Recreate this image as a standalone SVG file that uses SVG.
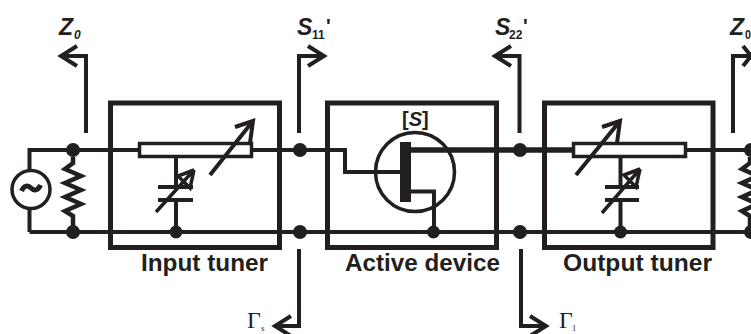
<svg xmlns="http://www.w3.org/2000/svg" width="751" height="334" viewBox="0 0 751 334">
<style>
.w{fill:none;stroke:#231f20;stroke-width:4;stroke-miterlimit:10}
.t{stroke-width:5.500}
.z{fill:none;stroke:#231f20;stroke-width:4.500;stroke-miterlimit:10}
.b{fill:none;stroke:#231f20;stroke-width:5}
.r{fill:#fff;stroke:#231f20;stroke-width:3.500}
.p{fill:none;stroke:#231f20;stroke-width:3.500}
.a{fill:none;stroke:#231f20;stroke-width:4}
.d{fill:#231f20}
text{fill:#231f20;font-family:"Liberation Sans",Arial,sans-serif}
.l{font-size:23.500px;font-weight:bold}
.v{font-size:23px;font-weight:bold;font-style:italic}
.q{font-size:20px;font-weight:bold}
.s{font-size:12px;font-weight:bold}
.g{font-family:"Liberation Serif","Times New Roman",serif;font-size:24px}
.gs{font-family:"Liberation Serif","Times New Roman",serif;font-size:9px}
</style>
<g id="connectors">
<path class="w" d="M73 150H138M253 150H300M300 150H345V172H400M73 232H751M29.500 232V209M29.500 170V150H73M29.500 232H73"/>
<path class="w t" d="M411 150H572"/>
<path class="w" d="M687 150H751M411 191.500H434V232"/>
<path class="z" d="M73 157V163L65 169L81 176L65 183L81 190L65 197L81 204L65 211L73 216V232"/>
<path class="z" d="M750 157V163L742 169L758 176L742 183L758 190L742 197L758 204L742 211L750 216V232"/>
<path class="a" d="M86 133V56H62M77 46L61 56L77 66"/>
<path class="a" d="M299 133V56H324M308 46L324 56L308 66"/>
<path class="a" d="M519.500 133V56H494M511 46L495 56L511 66"/>
<path class="a" d="M733 133V56H752M743 46L751 56L743 66"/>
<path class="a" d="M299 249V326H274M291 316L275 326L291 336"/>
<path class="a" d="M521 249V326H546M530 316L546 326L530 336"/>
</g>
<g id="input-tuner">
<rect class="b" x="110.500" y="103" width="169" height="144.500"/>
<rect class="r" x="139.500" y="143.500" width="112" height="13"/>
<path class="a" d="M210 175L253 121M235 127L253 121L250 143"/>
<path class="w" d="M176 158V187M176 200V232M158 187H193M158 200H193"/>
<path class="p" d="M156 212L194 170L178 176L190 188L194 170"/>
<circle class="d" cx="176" cy="232" r="6.500"/>
<text class="l" x="141" y="270.500" textLength="127" lengthAdjust="spacingAndGlyphs">Input tuner</text>
</g>
<g id="active-device">
<rect class="b" x="327.500" y="103" width="169" height="144.500"/>
<circle class="p" cx="415" cy="172" r="39.500"/>
<rect class="d" x="400" y="142" width="11" height="60"/>
<circle class="d" cx="433.500" cy="232" r="6.500"/>
<text x="402" y="126" font-size="20" font-weight="bold">[<tspan font-style="italic">S</tspan>]</text>
<text class="l" x="345" y="270.500" textLength="155" lengthAdjust="spacingAndGlyphs">Active device</text>
</g>
<g id="output-tuner">
<rect class="b" x="544.500" y="103" width="168.500" height="144.500"/>
<rect class="r" x="573.500" y="143.500" width="112" height="13"/>
<path class="a" d="M576 175L620 121M602 127L620 121L617 143"/>
<path class="w" d="M620.500 158V187M620.500 200V232M605 187H639M605 200H639"/>
<path class="p" d="M602 213L640 169L624 175L636 187L640 169"/>
<circle class="d" cx="620.500" cy="232" r="6.500"/>
<text class="l" x="563" y="270.500" textLength="149" lengthAdjust="spacingAndGlyphs">Output tuner</text>
</g>
<g id="source">
<circle class="p" cx="31" cy="189.500" r="19"/>
<path d="M21.500 191C24 185 28 185 31 188C34 191 38 191 40.500 185" fill="none" stroke="#231f20" stroke-width="5"/>
</g>
<g id="junctions">
<circle class="d" cx="73" cy="150" r="7"/>
<circle class="d" cx="73" cy="232" r="7"/>
<circle class="d" cx="300" cy="150" r="7"/>
<circle class="d" cx="300" cy="232" r="7"/>
<circle class="d" cx="520" cy="150" r="7"/>
<circle class="d" cx="520" cy="232" r="7"/>
<circle class="d" cx="751" cy="150" r="7"/>
<circle class="d" cx="751" cy="232" r="7"/>
</g>
<g id="labels">
<text class="v" x="59" y="35">Z</text><text class="s" x="74" y="39" font-style="italic">0</text>
<text class="v" x="297" y="35">S</text><text class="s" x="312" y="39">11</text><text class="q" x="326" y="33">'</text>
<text class="v" x="495" y="35">S</text><text class="s" x="509" y="39">22</text><text class="q" x="523" y="33">'</text>
<text class="v" x="730" y="35">Z</text><text class="s" x="745" y="39" textLength="6" lengthAdjust="spacingAndGlyphs">0</text>
<text class="g" x="247" y="328">Γ</text><text class="gs" x="261" y="331">s</text>
<text class="g" x="559" y="328">Γ</text><text class="gs" x="573" y="331">l</text>
</g>
</svg>
